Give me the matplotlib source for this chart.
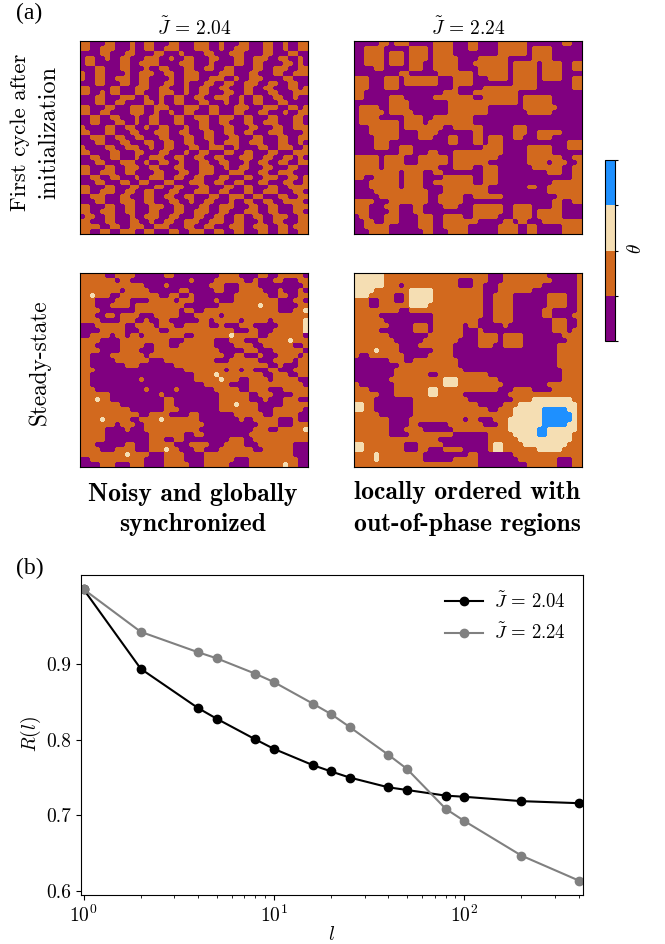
import re
import numpy as np
import matplotlib
matplotlib.use('Agg')
import matplotlib.pyplot as plt
from matplotlib.colors import ListedColormap, BoundaryNorm

plt.rcParams['font.family'] = 'cmr10'
plt.rcParams['mathtext.fontset'] = 'cm'
plt.rcParams['axes.formatter.use_mathtext'] = True
plt.rcParams['axes.unicode_minus'] = False

# correlation curves
l_values = [1, 2, 4, 5, 8, 10, 16, 20, 25, 40, 50, 80, 100, 200, 400]
R_204 = [0.9995, 0.894, 0.842, 0.828, 0.8005, 0.788, 0.7665, 0.758, 0.750, 0.737, 0.7335, 0.726, 0.7245, 0.7187, 0.716]
R_224 = [0.9995, 0.943, 0.916, 0.908, 0.8875, 0.8765, 0.848, 0.834, 0.817, 0.780, 0.7615, 0.7085, 0.6925, 0.6465, 0.6135]

col_titles = [r'$\tilde{J}\,=\,2.04$', r'$\tilde{J}\,=\,2.24$']
theta_colors = ['purple', 'chocolate', 'wheat', 'dodgerblue']

# lattice snapshots, 46x39 coarse cells
# p, o, w, b = the four phases, a number in front repeats the letter
first_204 = [
    "oopppoopppoppoopppoopppoooppopppoopppooppoppoo",
    "ooppooopppoppooppooopppoooppoppooopppooppoppoo",
    "ppppoopppooppppoopppoppppoopppoooppppoopppoopp",
    "pooppoppoopppoooppoppoopppoopppooppoooppooppop",
    "poopppppooppooooppppooopppoppppooppooppppoopop",
    "pppoopppoopppoppoopppooppooppooppppooppoooppoo",
    "oppooppppoppoooppooppoooppppooopppoopppooppooo",
    "oppooppoooppooppppoppoooppoooppoppoooppppooppp",
    "pppoopppooppoopppooppopppooppooppoooppooppoopp",
    "ooppppoopppoooppoopppoppooppoopppooppoopppoopo",
    "ooppopoopppoopppoooppoppoopppooppoopppoopppooo",
    "pppoopppoooppoppoppooppooppoooppoppooppooppopp",
    "pppooppooppppoopoppoopppoopppoppoppoopppoopppp",
    "oopppoopppoooppooopppoooppoopppooopppoooppoopo",
    "ooppooppppoooppoppoppoopppoopppoopppoopppoppoo",
    "ppooppoopppoppoopppooppoooppoooppoopppoopppoop",
    "ppoopppooppoppoopppoopppooppoopppooppooopppoop",
    "oppppooppooppoppoopppoppoopppoopppoopppooppooo",
    "oopppoopppoopppoooppoopppooppooppoopppoooppppo",
    "ppoooppooppoopppoopppooppoopppoopppoopppooppoo",
    "pppoopppoopppooppooppoopppoppoooppooopppooppop",
    "oppppooppoooppoppoopppooppoooppoppppooppoooppo",
    "ooppppoopppoopppoopppoppoopppooppoopppoopppooo",
    "ppooppoopppoppoooppooppooppoopppoooppooppoopop",
    "pppoopppoooppoppooppopppooppoopppoppooppooppoo",
    "oopppooppoooppoopppoopppoooppoppoopppoopppoopp",
    "ooppoooppooppppoopppooppooopppooopppooppoooppp",
    "ppooppoopppoppoooppooppoopppoopppooppoooppoopo",
    "pppoopppooppoopppoopppoooppooppoopppoopppooppo",
    "oopppoopppoopppooppoopppoopppooppoopppooppoooo",
    "ooppoooppooppoopppoopppoooppoopppooppooopppoop",
    "ppooopppoopppooppooppoopppooppoooppoopppooppoo",
    "pppoopppoooppoopppooppoppoopppoppooppooppoooop",
    "oopppooppoopppoooppoopppooppooopppooppoopppooo",
    "ooppoooppoopppoopppooppoooppoopppoooppoopppoop",
    "pooppoopppoppoooppoopppooppooppooppooppoooppoo",
    "oopppoopppooppoppooppoooppoooppoopppoppoopppoo",
    "ooooppooppoooppooopppooppoopppoooppoooppoopooo",
    "ooppooppoooppoopppooppoooppooppoopppooppooppoo",
]
first_224 = [
    "5p2o1p3o5p4o3p2o4p6o7p2o2p",
    "2p4o5p4o1p4o3p2o4p6o1p4o6p",
    "2p4o1p3o1p4o1p4o9p6o1p4o6p",
    "2p4o1p3o1p4o1p5o4p6o5p4o6p",
    "2p4o1p3o1p3o2p5o3p7o1p5o1p4o2p2o",
    "4p2o5p3o2p5o4p6o1p5o1p4o2p2o",
    "9p2o6p7o1p6o1p5o1p4o4p",
    "3o3p3o1p7o3p4o3p4o1p5o1p4o2p2o",
    "3o3p3o1p7o3p4o8p5o7p2o",
    "3o3p3o11p1o5p11o7p2o",
    "2o16p3o3p9o13p",
    "2o5p3o6p8o2p7o1p6o6p",
    "7p4o8p14o1p6o6p",
    "1p4o2p4o8p8o7p7o5p",
    "1p5o1p5o7p8o8p5o6p",
    "1p4o5p4o2p8o22p",
    "1p8o1p4o1p9o22p",
    "3p6o1p8o2p6o6p3o11p",
    "3p6o4p4o7p2o6p3o2p5o4p",
    "4p5o4p3o3p2o3p2o1p3o2p2o3p3o6p",
    "4p3o12p2o3p2o1p3o13p3o",
    "4p3o2p3o14p4o5p5o3p3o",
    "9p3o3p2o3p10o5p5o6p",
    "5o1p4o3p6o1p9o6p7o2p2o",
    "5o1p4o3p6o1p7o8p4o1p3o2p2o",
    "5o1p11o3p4o2p3o7p6o2p2o",
    "9o1p4o2p2o8p3o10p3o2p2o",
    "2o2p5o1p4o4p6o2p3o15p2o",
    "3p6o1p4o2p8o2p3o11p6o",
    "3p6o1p4o4p9o8p2o2p7o",
    "4p11o3p9o12p7o",
    "5p10o2p5o2p6o11p5o",
    "4o3p8o2p5o18p2o2p2o",
    "3o3p3o3p2o4p3o3p6o2p4o4p2o4p",
    "3o4p2o3p2o10p6o2p4o1p5o4p",
    "1p2o3p3o4p3o2p4o2p5o3p4o1p5o4p",
    "2p2o2p3o4p3o2p7o5p2o1p2o3p8o",
    "2p5o6p3o2p5o6p4o2p2o5p4o",
    "3p4o7p2o3p4o6p4o2p2o5p4o",
]
steady_204 = [
    "oooooppooooppppppoopppppppppooooppppooppooooop",
    "ooooooopooppppppppppppoppppooooooppopppoopppoo",
    "oooooooooooooppppoppppppppooopppoooopppppppppo",
    "oooooooopoooooppppppoopppppoopppooooopppopppop",
    "oowoooppooooooooppooppoppppppppoooooooppooppoo",
    "oooppppoooppppooooopoooppppopppooooooooopppoop",
    "ooopppoooopoooooooooopppppppoooooooowoooppppoo",
    "oooopppppppooooooooopooppooooooooooooooopppoow",
    "oooppoopoooopppooooopppooooopooooooooooooooooow",
    "ooooppppoooppoppooppppppoopooooopooooopoooooow",
    "pppooooooppoooopoooppoooooppopppooopppppooooow",
    "ppppooooopppooooppooooooooooooopppoopppoooooow",
    "ppoooopoopoopooooooooppooooooowoooooppooooooop",
    "ooooppppoooooooooopppoooooopppooopppoooooowooo",
    "ooopppppoooooppoooppoooooooppppooooppooooooppo",
    "ooooppppoooopppooooooooooooopppppooopppoooooop",
    "ooppppooooooopoooooooooooooooppoopppopppoooopo",
    "oopppppooooooopppoooooooooopppoooooopppoooopoo",
    "oopppppppooopppppppoooooooooooooooooooppopppoo",
    "oooppppppppppppppppppoooooooopoopoopppoopppooo",
    "oopppppppppppppppppppppoooowoooooooooppoooppoop",
    "ooppppppppppoppppppppppooooowoooppoooopooooopp",
    "oopppppppppppppppppppppppoooooppppooooooooooopp",
    "oooppppppppppopppppopppppppoooooppoooopppooooop",
    "ooooooppppppppppopppppppppppooooooppoooppppooop",
    "ooowoopppppppppppoopppppppppoooooopppopppoooppp",
    "oooooooopppppppppoopppppppppooowoooopppppooooop",
    "oooooooooopppppppoooppppppppoooooooopppoooooopp",
    "ooooooooooooppooooppppoopppppppooooooppoooooppp",
    "oooowoooooppoooowoooooooppppppppoppooooopppopppo",
    "ooooooopoooppoooooooooooopppppppppppoooopppooooo",
    "oooooppppopppooooooooooopppppppppppoooppooooowo",
    "ooooopppppppppoooooooppoopppppppppooooooooooooo",
    "ooooopppppppppoooppoopppppppppoooppoooooooooooo",
    "oooppppppoopppooooopppoooopppoooopppooooooopppo",
    "oooopppoooopppooowoopppoopppoooooooppooooooppp",
    "ooooooooowoooopppooooppppoooooooooooooooooopppp",
    "ppoooooooooooppppooooppppoooooopppoooooooooopppp",
    "ppppooopppoooppppooooopppoooooppppooooooowoopppp",
]
steady_224 = [
    "6w21o3p9o6p1o",
    "6w15o3p3o3p10o5p1o",
    "6w3o1p11o3p2o3p9o7p1o",
    "4w7o5w10o3p7o9p1o",
    "3w5o2p1o5w10o2p4o7p4o2p1o",
    "3o2p3o2p1o5w10o2p4o7p4o2p1o",
    "3o2p6o4w11o2p4o7p4o2p1o",
    "9o2p15o2p4o6p2o5p1o",
    "5o11p10o2p4o6p2o4p2o",
    "6o10p9o3p4o8p3o2p1o",
    "7o5p3o1p6o1p2o5p1o9p3o2p1o",
    "5o7p3o1p6o3p1o14p3o1p2o",
    "7o8p7o3p4o1p4o8p4o",
    "8o6p7o4p4o1p4o9p3o",
    "9o4p7o5p3o2p4o7p5o",
    "4o1w4o7p4o21p5o",
    "1o2p7o5p5o21p5o",
    "7p3o2p9o20p5o",
    "9p12o20p5o",
    "8p14o20p4o",
    "8p7o2p10o15p4o",
    "7p11o3w8o13p4o",
    "1o7p10o3w9o9p7o",
    "3o5p7o2w12o3p4o4p6o",
    "5o3p7o2w5o9p15o",
    "4o8p11o9p4o8w2o",
    "2w2o8p13o5p3o12w1o",
    "2w2o8p15o2p3o6w5b2w1o",
    "5o7p20o6w6b1w1o",
    "7o4p11o1p2o3p3o7w6b1w1o",
    "7o4p2o6p7o3p2o7w5b2w1o",
    "7o3p4o6p11o6w2b6w1o",
    "7o4p9o7p5o5w2b5w2o",
    "17o10p6o11w2o",
    "2w8o3p5o9p1o2w4o9w3o",
    "2w8o3p2o3p4o5p1o2w7o5w4o",
    "4o1w9o9p2o7p14o",
    "4o1w9o6p5o8p8o3p2o",
    "25o10p6o3p2o",
]

rows_by_panel = [first_204, first_224, steady_204, steady_224]
panel_boxes = [(80, 41, 308, 234), (354, 41, 582, 234), (80, 273, 308, 467), (354, 273, 582, 467)]
codes = {'p': 0, 'o': 1, 'w': 2, 'b': 3}
W, H = 665, 944
n_cols = 46
upscale = 5


def to_grid(rows):
    out = []
    for r in rows:
        cells = ''.join(c * int(n or 1) for n, c in re.findall(r'(\d*)([powb])', r))
        out.append([codes[c] for c in cells.ljust(n_cols, 'o')[:n_cols]])
    return np.array(out)


def round_cells(grid):
    # upsample and blur each phase so the coarse cells get rounded edges
    kernel = np.array([1, 2, 3, 2, 1]) / 9
    big = np.kron(grid, np.ones((upscale, upscale), dtype=int))
    layers = []
    for k in range(len(theta_colors)):
        m = (big == k).astype(float)
        m = np.apply_along_axis(lambda v: np.convolve(v, kernel, mode='same'), 0, m)
        m = np.apply_along_axis(lambda v: np.convolve(v, kernel, mode='same'), 1, m)
        layers.append(m)
    return np.argmax(layers, axis=0)


def px_box(x0, y0, x1, y1):
    return [x0 / W, 1 - y1 / H, (x1 - x0) / W, (y1 - y0) / H]


fig = plt.figure(figsize=(W / 100, H / 100), dpi=100)
cmap = ListedColormap(theta_colors)
norm = BoundaryNorm([-0.5, 0.5, 1.5, 2.5, 3.5], cmap.N)

for i, (rows, b) in enumerate(zip(rows_by_panel, panel_boxes)):
    ax = fig.add_axes(px_box(*b))
    im = ax.imshow(round_cells(to_grid(rows)), cmap=cmap, norm=norm, interpolation='nearest', aspect='auto')
    ax.set_xticks([])
    ax.set_yticks([])
    if i < 2:
        ax.set_title(col_titles[i], fontsize=14, pad=4)

cax = fig.add_axes(px_box(605, 160, 614.5, 341))
cbar = fig.colorbar(im, cax=cax, ticks=[-0.5, 0.5, 1.5, 2.5, 3.5])
cbar.ax.set_yticklabels([])
cbar.ax.tick_params(length=2.5, width=0.8)
fig.text(636 / W, 1 - 249 / H, r'$\theta$', rotation=90, ha='center', va='center', fontsize=14)

fig.text(20 / W, 1 - 132 / H, 'First cycle after', rotation=90, ha='center', va='center', fontsize=16.4)
fig.text(49 / W, 1 - 132 / H, 'initialization', rotation=90, ha='center', va='center', fontsize=17.5)
fig.text(40 / W, 1 - 362 / H, 'Steady-state', rotation=90, ha='center', va='center', fontsize=16.8)

fig.text(193 / W, 1 - 494 / H, 'Noisy and globally', ha='center', va='center', fontsize=18.5, family='cmb10')
fig.text(193 / W, 1 - 525 / H, 'synchronized', ha='center', va='center', fontsize=18.5, family='cmb10')
fig.text(467 / W, 1 - 492 / H, 'locally ordered with', ha='center', va='center', fontsize=18.5, family='cmb10')
fig.text(467 / W, 1 - 524 / H, 'out-of-phase regions', ha='center', va='center', fontsize=18.5, family='cmb10')

fig.text(16 / W, 1 - 13 / H, '(a)', ha='left', va='center', fontsize=17, family='Liberation Serif')
fig.text(16 / W, 1 - 568 / H, '(b)', ha='left', va='center', fontsize=17, family='Liberation Serif')

ax = fig.add_axes(px_box(81, 574.5, 583, 894.5))
ax.plot(l_values, R_204, '-o', color='black', lw=1.5, ms=6, label=col_titles[0])
ax.plot(l_values, R_224, '-o', color='gray', lw=1.5, ms=6, label=col_titles[1])
ax.set_xscale('log')
ax.set_xlim(0.97, 421)
ax.set_ylim(0.595, 1.019)
ax.set_yticks([0.6, 0.7, 0.8, 0.9])
ax.set_yticklabels(['0.6', '0.7', '0.8', '0.9'])
ax.tick_params(labelsize=14)
ax.set_xlabel(r'$l$', fontsize=14)
ax.xaxis.set_label_coords(0.5, -0.098)
ax.set_ylabel(r'$R(l)$', fontsize=14)
ax.yaxis.set_label_coords(-0.076, 0.5)
ax.legend(frameon=False, fontsize=13.5, loc='upper right', labelspacing=0.6, handlelength=2.05, handletextpad=0.6)

fig.savefig('out.png', dpi=100)
